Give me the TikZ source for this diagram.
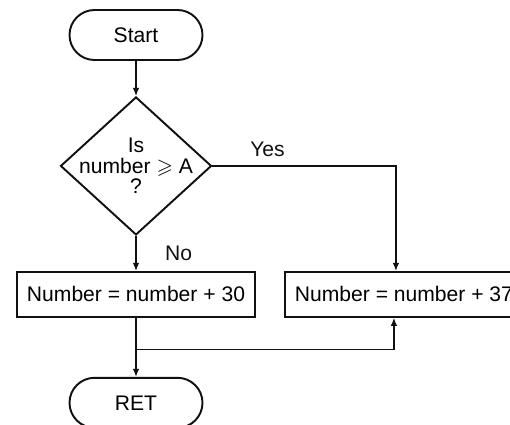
\documentclass[tikz,border=0pt]{standalone}
\usepackage{amssymb}
\usepackage{fontspec}
\setmainfont{Liberation Sans}
\definecolor{trazoNegro}{HTML}{111111}
\definecolor{fondoPapel}{HTML}{FFFFFF}
\usetikzlibrary{
	arrows.meta,
	positioning,
	calc,
	shapes.geometric
}
\tikzset{
	extremo/.style={
		draw=trazoNegro,
		line width=1.1pt,
		rounded corners=5mm,
		fill=fondoPapel,
		minimum width=2.66cm,
		minimum height=1cm,
		align=center,
		font=\fontsize{12}{13}\selectfont
	},
	pregunta/.style={
		draw=trazoNegro,
		line width=1.1pt,
		shape=diamond,
		inner sep=-3.5mm,
		minimum width=3.02cm,
		minimum height=2.76cm,
		align=center,
		font=\fontsize{12}{11.5}\selectfont
	},
	paso/.style={
		draw=trazoNegro,
		line width=1.1pt,
		minimum width=4.76cm,
		minimum height=0.9cm,
		align=center,
		font=\fontsize{12}{13}\selectfont
	},
	etiqueta/.style={
		font=\fontsize{12}{13}\selectfont,
		inner sep=2pt
	},
	flecha/.style={
		-{Latex[length=1.6mm,width=1.3mm]},
		line width=0.7pt,
		trazoNegro
	},
	linea/.style={
		line width=0.7pt,
		trazoNegro
	}
}

\begin{document}
\begin{tikzpicture}[node distance=0.7cm and 0.56cm]
	\useasboundingbox (0,0) rectangle (10.2,-8.48);
	\clip (0,0) rectangle (10.2,-8.48);
	\node[extremo] (inicio) at (2.72,-0.70) {Start};
	\node[pregunta, below=of inicio] (prueba) {Is\\number $\geqslant$ A\\?};
	\node[paso, below=of prueba] (sumaBaja) {Number = number + 30};
	\node[paso, right=of sumaBaja] (sumaAlta) {Number = number + 37};
	\node[extremo, below=1.18cm of sumaBaja] (fin) {RET};
	\coordinate (union) at ($(sumaBaja.south)+(0,-0.64)$);
	\draw[flecha] (inicio) -- (prueba);
	\draw[flecha] (prueba) -- node[etiqueta, right, xshift=0.5cm] {No} (sumaBaja);
	\draw[flecha] (prueba.east) -| node[etiqueta, pos=0.15, above, yshift=0.1cm] {Yes} ([xshift=-1.6mm]sumaAlta.north);
	\draw[flecha] (sumaBaja) -- (fin);
	\draw[flecha] (union) -| ([xshift=-2mm]sumaAlta.south);
\end{tikzpicture}
\end{document}
